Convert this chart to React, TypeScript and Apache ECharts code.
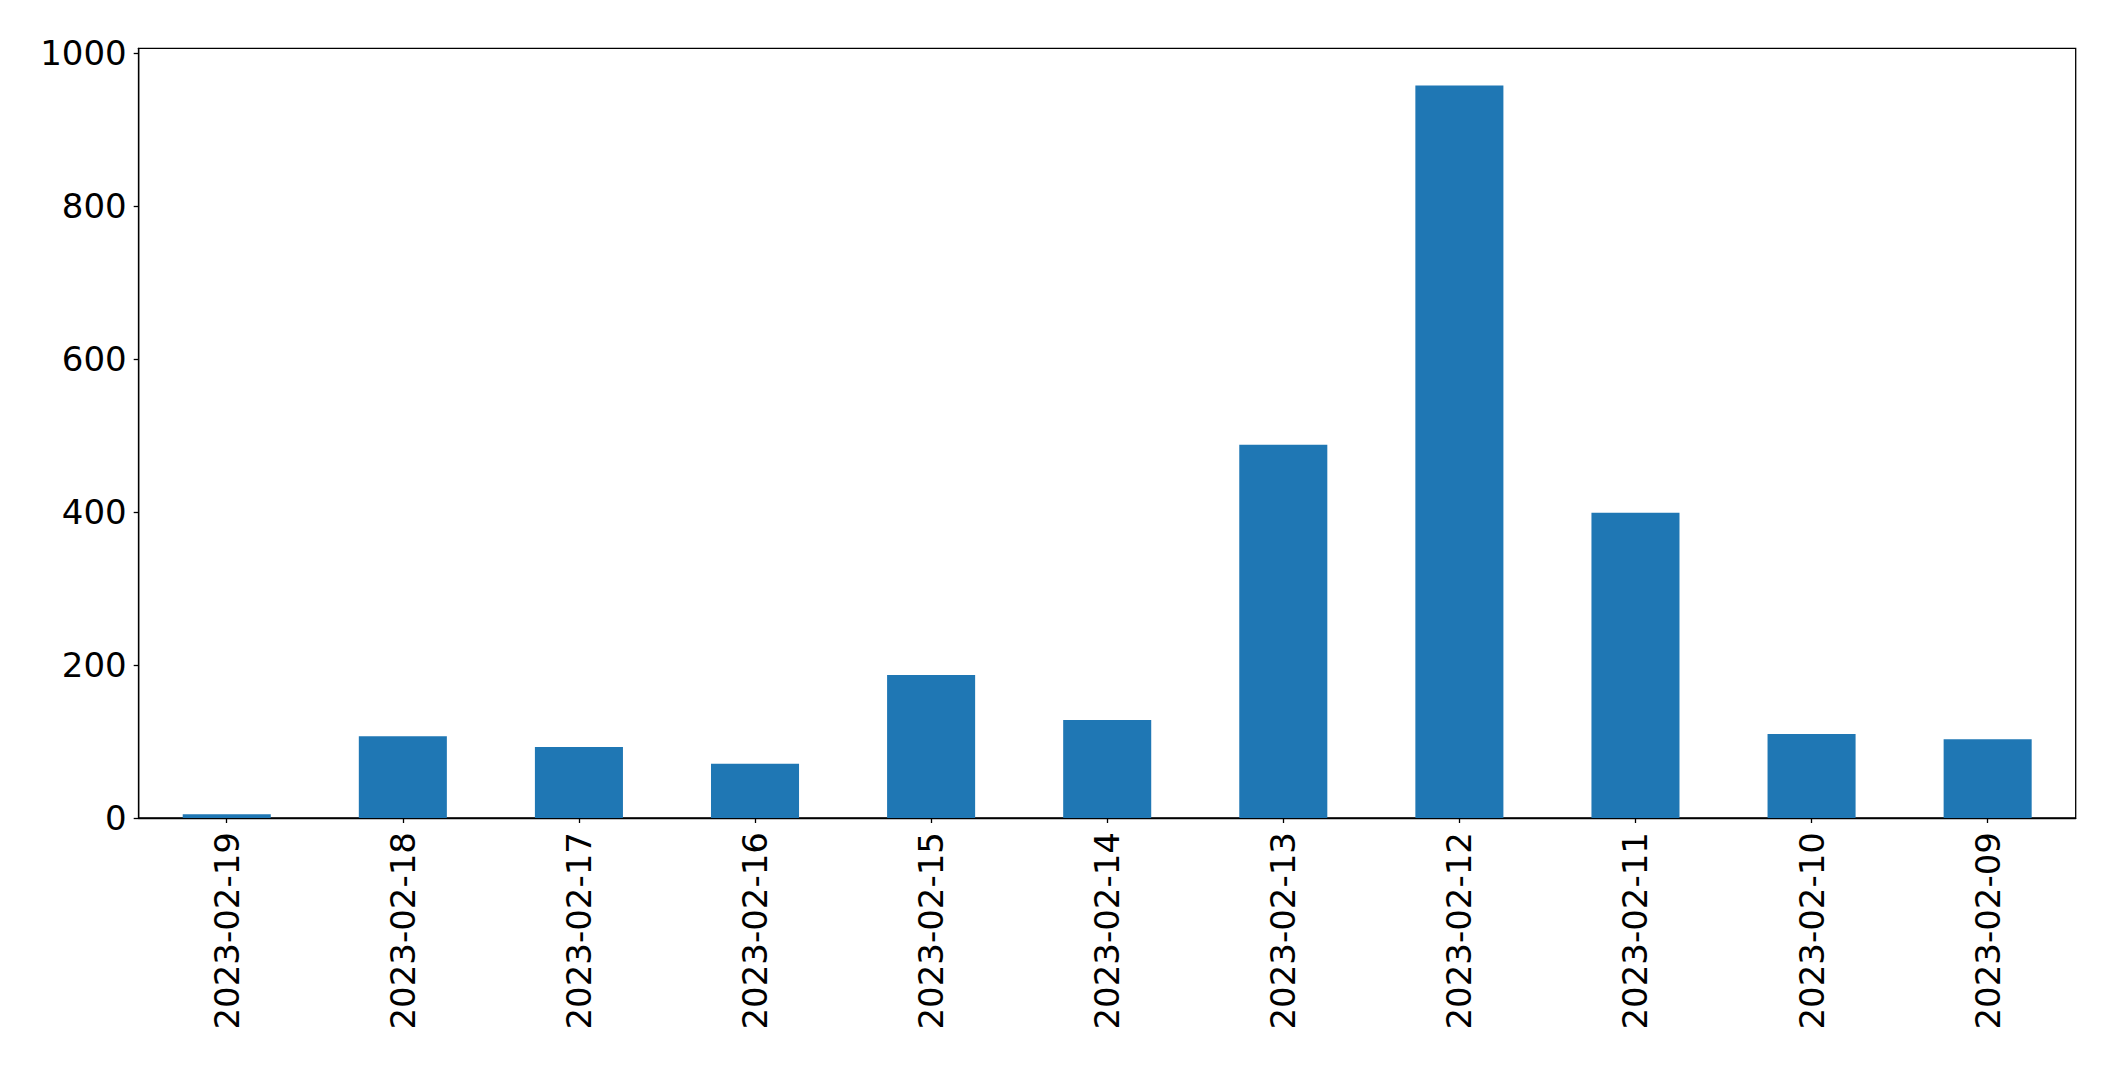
import React, { useEffect, useRef } from "react";
import * as echarts from "echarts";

const categories = [
  "2023-02-19",
  "2023-02-18",
  "2023-02-17",
  "2023-02-16",
  "2023-02-15",
  "2023-02-14",
  "2023-02-13",
  "2023-02-12",
  "2023-02-11",
  "2023-02-10",
  "2023-02-09",
];
const values = [5, 107, 93, 71, 187, 128, 488, 958, 399, 110, 103];
const yTicks = [0, 200, 400, 600, 800, 1000];
const yMax = 1006.5;

export default function App() {
  const ref = useRef<HTMLDivElement>(null);
  useEffect(() => {
    if (!ref.current) return;
    const chart = echarts.init(ref.current, null, { renderer: "svg" });
    const font = "DejaVu Sans";
    chart.setOption({
      animation: false,
      backgroundColor: "#ffffff",
      grid: {
        left: 138.7,
        top: 48.3,
        right: 39.3,
        bottom: 252,
        show: true,
        borderColor: "#000000",
        borderWidth: 1.3,
        backgroundColor: "transparent",
      },
      xAxis: {
        type: "category",
        data: categories,
        boundaryGap: true,
        axisLine: { show: true, lineStyle: { color: "#000", width: 1.3 } },
        axisTick: {
          show: true,
          alignWithLabel: true,
          length: 5,
          lineStyle: { color: "#000", width: 1.3 },
        },
        axisLabel: {
          rotate: 90,
          margin: 14,
          fontSize: 34,
          fontFamily: font,
          color: "#000",
          interval: 0,
        },
        splitLine: { show: false },
      },
      yAxis: {
        type: "value",
        min: 0,
        max: yMax,
        axisLine: { show: true, lineStyle: { color: "#000", width: 1.3 } },
        axisTick: {
          show: true,
          length: 5,
          customValues: yTicks,
          lineStyle: { color: "#000", width: 1.3 },
        },
        axisLabel: {
          margin: 12,
          fontSize: 34,
          fontFamily: font,
          color: "#000",
          customValues: yTicks,
          formatter: (v: number) => String(v),
        },
        splitLine: { show: false },
      },
      series: [
        {
          type: "bar",
          data: values,
          barWidth: "50%",
          itemStyle: { color: "#1f77b4" },
        },
      ],
    });
    return () => chart.dispose();
  }, []);
  return (
    <div
      ref={ref}
      style={{ position: "fixed", left: 0, top: 0, width: 2115, height: 1070, background: "#fff" }}
    />
  );
}
